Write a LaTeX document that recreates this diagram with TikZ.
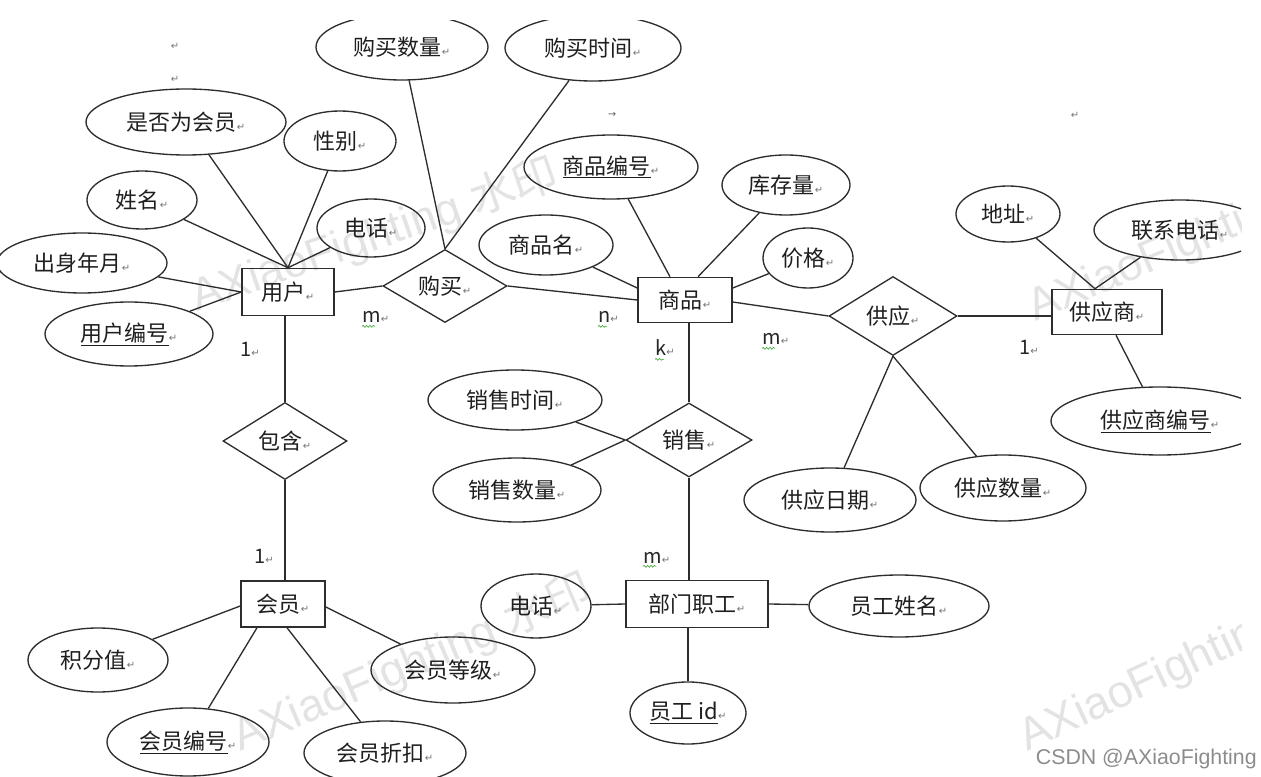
\documentclass[tikz,border=0pt]{standalone}
\usepackage{fontspec}
\setmainfont{Noto Sans CJK SC}
\newfontfamily\symf{DejaVu Sans}
\newfontfamily\wmf{Liberation Sans}
\usetikzlibrary{shapes.geometric,calc,decorations.pathmorphing}
\definecolor{ln}{RGB}{45,45,45}
\definecolor{sq}{RGB}{70,170,60}
\newcommand\rt{{\symf\fontsize{7.5}{8}\selectfont\color{black!55}↵}}
\newcommand\lbl{\fontsize{16.5}{18}\selectfont}
\newcommand\cardf{\fontsize{15}{16}\selectfont}
\tikzset{
 ov/.style 2 args={ellipse, draw=ln, line width=1pt, inner sep=0pt, minimum width=#1*1.5pt, minimum height=#2*1.5pt, font=\lbl, text=black!88},
 ent/.style 2 args={rectangle, draw=ln, line width=1.15pt, inner sep=0pt, minimum width=#1*0.75pt, minimum height=#2*0.75pt, font=\lbl, text=black!88},
 rel/.style 2 args={diamond, draw=ln, line width=1pt, inner sep=0pt, minimum width=#1*0.75pt, minimum height=#2*0.75pt, font=\lbl, text=black!88},
 con/.style={draw=ln, line width=1pt},
 card/.style={font=\cardf, text=black!85, inner sep=0pt, anchor=base west},
 wavy/.style={draw=sq, line width=0.5pt, decorate, decoration={snake, amplitude=0.7pt, segment length=2.6pt}},
 wm/.style={text=black!11, font=\wmf\fontsize{34}{36}\selectfont, anchor=base west, inner sep=0pt},
 stray/.style={inner sep=0pt, text=black!60},
}
\begin{document}
\begin{tikzpicture}[x=0.75pt,y=-0.75pt]
\useasboundingbox (0,0) rectangle (1261,777);
\begin{scope}
\clip (0,21) rectangle (1241,777);
% watermarks
\node[wm, rotate=19] (w1) at (197,312) {AXiaoFighting {\rmfamily 水印}};
\node[wm, rotate=23] (w2) at (240,752) {AXiaoFighting {\rmfamily 水印}};
\node[wm, rotate=23] (w3) at (1035,322) {AXiaoFighting};
\node[wm, rotate=25] (w4) at (1027,752) {AXiaoFighting};

% entities
\node[ent={92}{47}] (yh) at (288,292) {用户\rt};
\node[ent={94}{45}] (sp) at (685,300) {商品\rt};
\node[ent={110}{45}] (gys) at (1107,312) {供应商\rt};
\node[ent={84}{46}] (hy) at (283,604) {会员\rt};
\node[ent={142}{47}] (bm) at (697,604) {部门职工\rt};

% relationships
\node[rel={124}{73}] (gm) at (445,286) {购买\rt};
\node[rel={128}{79}] (gy) at (893,316) {供应\rt};
\node[rel={124}{77}] (bh) at (285,441) {包含\rt};
\node[rel={126}{74}] (xs) at (689,440) {销售\rt};

% attributes
\node[ov={100}{33}] (a1) at (186,122) {是否为会员\rt};
\node[ov={56}{30}] (a2) at (340,141) {性别\rt};
\node[ov={55}{29}] (a3) at (142,200) {姓名\rt};
\node[ov={85}{30}] (a4) at (82,263) {出身年月\rt};
\node[ov={84}{32}] (a5) at (129,334) {\underline{用户编号}\rt};
\node[ov={54}{29}] (a6) at (371,228) {电话\rt};
\node[ov={86}{33}] (b1) at (402,47) {购买数量\rt};
\node[ov={88}{33}] (b2) at (593,48) {购买时间\rt};
\node[ov={87}{32}] (c1) at (611,167) {\underline{商品编号}\rt};
\node[ov={64}{30}] (c2) at (786,185) {库存量\rt};
\node[ov={67}{30}] (c3) at (546,245) {商品名\rt};
\node[ov={45}{30}] (c4) at (808,258) {价格\rt};
\node[ov={52}{28}] (d1) at (1008,214) {地址\rt};
\node[ov={86}{30}] (d2) at (1180,230) {联系电话\rt};
\node[ov={109}{34}] (d3) at (1160,421) {\underline{供应商编号}\rt};
\node[ov={86}{32}] (e1) at (830,500) {供应日期\rt};
\node[ov={83}{33}] (e2) at (1003,488) {供应数量\rt};
\node[ov={87}{30}] (f1) at (515,400) {销售时间\rt};
\node[ov={84}{32}] (f2) at (517,490) {销售数量\rt};
\node[ov={55}{32}] (g1) at (536,606) {电话\rt};
\node[ov={90}{31}] (g2) at (899,606) {员工姓名\rt};
\node[ov={58}{31}] (g3) at (688,713) {\underline{员工 id}\rt};
\node[ov={70}{32}] (h1) at (98,660) {积分值\rt};
\node[ov={81}{34}] (h2) at (188,742) {\underline{会员编号}\rt};
\node[ov={81}{32}] (h3) at (385,753) {会员折扣\rt};
\node[ov={82}{33}] (h4) at (453,670) {会员等级\rt};

% connectors: 用户
\draw[con] (a1) -- (yh.north);
\draw[con] (a2) -- (yh.north);
\draw[con] (a3) -- (yh.north);
\draw[con] (a6) -- (yh.north);
\draw[con] (a4) -- (yh.west);
\draw[con] (a5) -- (yh.west);
\draw[con] (yh.east) -- (gm.west);
\draw[con] (gm.east) -- (sp.west);
\draw[con] (b1) -- (gm.north);
\draw[con] (b2) -- (gm.north);
% 商品
\draw[con] (c1) -- ($(sp.north)+(-15,0)$);
\draw[con] (c2) -- ($(sp.north)+(13,0)$);
\draw[con] (c3) -- ($(sp.west)+(0,-12)$);
\draw[con] (c4) -- ($(sp.east)+(0,-12)$);
\draw[con] ($(sp.east)+(0,2)$) -- (gy.west);
\draw[con] (xs.north |- sp.south) -- (xs.north);
% 供应商
\draw[con] (gy.east) -- (gy.east -| gys.west);
\draw[con] (d1) -- ($(gys.north)+(-12,0)$);
\draw[con] (d2) -- ($(gys.north)+(-12,0)$);
\draw[con] (d3) -- ($(gys.south)+(9,0)$);
\draw[con] (e1) -- (gy.south);
\draw[con] (e2) -- (gy.south);
% 销售
\draw[con] (f1) -- (xs.west);
\draw[con] (f2) -- (xs.west);
\draw[con] (xs.south) -- (xs.south |- bm.north);
\draw[con] (g1) -- (bm.west);
\draw[con] (g2) -- (bm.east);
\draw[con] (g3) -- (g3.north |- bm.south);
% 包含 / 会员
\draw[con] (bh.north |- yh.south) -- (bh.north);
\draw[con] (bh.south) -- (bh.south |- hy.north);
\draw[con] (h1) -- ($(hy.west)+(0,2)$);
\draw[con] (h2) -- ($(hy.south)+(-26,0)$);
\draw[con] (h3) -- ($(hy.south)+(4,0)$);
\draw[con] (h4) -- ($(hy.east)+(0,3)$);

% cardinalities
\node[card] (k1) at (362,323) {m\rt};
\draw[wavy] ([yshift=-2.5pt]k1.base west) -- ++(13,0);
\node[card] (k2) at (240,357) {1\rt};
\node[card] (k3) at (598,323) {n\rt};
\draw[wavy] ([yshift=-2.5pt]k3.base west) -- ++(9,0);
\node[card] (k4) at (655,356) {k\rt};
\draw[wavy] ([yshift=-2.5pt]k4.base west) -- ++(9,0);
\node[card] (k5) at (762,345) {m\rt};
\draw[wavy] ([yshift=-2.5pt]k5.base west) -- ++(13,0);
\node[card] (k6) at (1019,355) {1\rt};
\node[card] (k7) at (254,563) {1\rt};
\node[card] (k8) at (643,563) {m\rt};
\draw[wavy] ([yshift=-2.5pt]k8.base west) -- ++(13,0);

% stray marks
\node[stray] (s1) at (175,46) {\rt};
\node[stray] (s2) at (175,79) {\rt};
\node[stray, font=\symf\fontsize{7.5}{8}\selectfont] (s3) at (612,115) {→};
\node[stray] (s4) at (1075,115) {\rt};
\end{scope}
\node[anchor=base east, inner sep=0pt, text=black!45, font=\wmf\fontsize{16}{18}\selectfont] (csdn) at (1257,764) {CSDN @AXiaoFighting};
\end{tikzpicture}
\end{document}
